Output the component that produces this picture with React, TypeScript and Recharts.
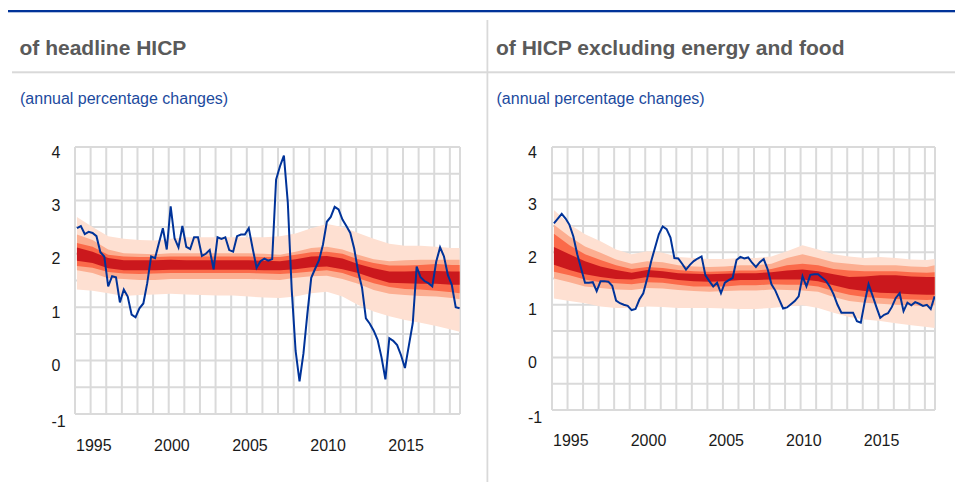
import React from 'react';
import { ComposedChart, Area, Line, XAxis, YAxis, CartesianGrid } from 'recharts';

const FONT = '"Liberation Sans", Arial, Helvetica, sans-serif';

// 1995Q1 .. 2019Q3, positioned mid-quarter
const FIRST_YEAR = 1995;
const QUARTER_COUNT = 99;
const QUARTER_X = Array.from({ length: QUARTER_COUNT }, (_, i) => FIRST_YEAR + Math.floor(i / 4) + ((i % 4) + 0.5) / 4);
// fan bands read once a year (Q1) plus the last quarter
const BAND_INDEX = [0, 4, 8, 12, 16, 20, 24, 28, 32, 36, 40, 44, 48, 52, 56, 60, 64, 68, 72, 76, 80, 84, 88, 92, 96, 98];

const X_END = 2019.65;
const YEAR_TICKS = [1995, 1996, 1997, 1998, 1999, 2000, 2001, 2002, 2003, 2004, 2005, 2006, 2007, 2008, 2009, 2010, 2011, 2012, 2013, 2014, 2015, 2016, 2017, 2018, 2019, X_END];
const LABELLED_YEARS = [1995, 2000, 2005, 2010, 2015];
const Y_TICKS = [-1, -0.5, 0, 0.5, 1, 1.5, 2, 2.5, 3, 3.5, 4];
const Y_LABELS = [-1, 0, 1, 2, 3, 4];

// headline HICP, annual % change (quarterly)
const HEADLINE = [
  2.48, 2.52, 2.37, 2.41, 2.39, 2.33, 2.03, 1.95, 1.39, 1.58,
  1.56, 1.09, 1.33, 1.20, 0.86, 0.81, 0.98, 1.07, 1.45, 1.95,
  1.92, 2.20, 2.48, 2.08, 2.89, 2.29, 2.12, 2.52, 2.13, 2.09,
  2.31, 2.31, 1.96, 2.00, 2.07, 1.71, 2.31, 2.28, 2.31, 2.07,
  2.04, 2.33, 2.36, 2.36, 2.48, 2.10, 1.74, 1.86, 1.91, 1.87,
  1.90, 3.39, 3.64, 3.84, 2.96, 1.33, 0.18, -0.39, 0.13, 0.87,
  1.55, 1.72, 1.88, 2.17, 2.60, 2.69, 2.88, 2.83, 2.64, 2.52,
  2.39, 2.10, 1.67, 1.37, 0.79, 0.69, 0.56, 0.39, 0.06, -0.35,
  0.42, 0.37, 0.29, 0.10, -0.14, 0.28, 0.70, 1.76, 1.56, 1.49,
  1.45, 1.39, 1.85, 2.12, 1.95, 1.60, 1.42, 1.00, 0.98,
];

// HICP excluding energy and food
const CORE = [
  2.55, 2.64, 2.73, 2.64, 2.52, 2.30, 1.96, 1.69, 1.42, 1.42,
  1.43, 1.26, 1.45, 1.45, 1.44, 1.36, 1.08, 1.03, 1.00, 0.98,
  0.90, 0.92, 1.10, 1.22, 1.50, 1.82, 2.08, 2.34, 2.49, 2.44,
  2.28, 1.89, 1.88, 1.78, 1.67, 1.76, 1.83, 1.88, 1.92, 1.56,
  1.45, 1.35, 1.42, 1.22, 1.42, 1.47, 1.51, 1.85, 1.91, 1.88,
  1.90, 1.80, 1.72, 1.81, 1.87, 1.68, 1.39, 1.27, 1.10, 0.93,
  0.95, 1.01, 1.07, 1.16, 1.54, 1.35, 1.57, 1.58, 1.58, 1.52,
  1.46, 1.35, 1.20, 1.00, 0.85, 0.85, 0.85, 0.85, 0.69, 0.66,
  1.05, 1.39, 1.18, 0.96, 0.75, 0.81, 0.84, 0.96, 1.13, 1.22,
  0.88, 1.04, 0.99, 1.05, 1.02, 0.98, 1.00, 0.92, 1.16,
];

// headline fan bands
const H_LIGHT_HI = [2.69, 2.50, 2.33, 2.28, 2.26, 2.25, 2.28, 2.31, 2.31, 2.31, 2.31, 2.31, 2.31, 2.33, 2.38, 2.48, 2.56, 2.50, 2.39, 2.28, 2.19, 2.15, 2.15, 2.13, 2.11, 2.11];
const H_SALMON_HI = [2.36, 2.26, 2.08, 2.01, 2.00, 1.99, 2.01, 2.01, 2.01, 2.01, 2.01, 2.01, 2.00, 1.98, 2.04, 2.11, 2.13, 2.08, 1.98, 1.90, 1.86, 1.88, 1.89, 1.89, 1.89, 1.89];
const H_ORANGE_HI = [2.20, 2.13, 1.98, 1.95, 1.94, 1.94, 1.95, 1.95, 1.95, 1.95, 1.95, 1.95, 1.94, 1.94, 1.98, 2.03, 2.04, 2.00, 1.90, 1.83, 1.78, 1.78, 1.79, 1.81, 1.79, 1.79];
const H_DARK_HI = [2.12, 2.04, 1.92, 1.88, 1.88, 1.88, 1.89, 1.88, 1.88, 1.88, 1.88, 1.88, 1.87, 1.86, 1.90, 1.95, 1.96, 1.91, 1.81, 1.73, 1.67, 1.67, 1.68, 1.68, 1.67, 1.67];
const H_DARK_LO = [1.87, 1.83, 1.73, 1.69, 1.69, 1.69, 1.70, 1.70, 1.70, 1.70, 1.70, 1.70, 1.69, 1.69, 1.71, 1.75, 1.76, 1.71, 1.64, 1.54, 1.46, 1.45, 1.44, 1.44, 1.42, 1.42];
const H_ORANGE_LO = [1.77, 1.74, 1.66, 1.63, 1.62, 1.63, 1.64, 1.64, 1.64, 1.64, 1.64, 1.64, 1.63, 1.62, 1.64, 1.67, 1.69, 1.64, 1.54, 1.45, 1.38, 1.34, 1.33, 1.31, 1.28, 1.26];
const H_SALMON_LO = [1.69, 1.64, 1.54, 1.53, 1.51, 1.51, 1.53, 1.53, 1.53, 1.53, 1.53, 1.53, 1.52, 1.51, 1.55, 1.58, 1.59, 1.53, 1.44, 1.32, 1.25, 1.23, 1.21, 1.20, 1.17, 1.15];
const H_LIGHT_LO = [1.33, 1.31, 1.26, 1.21, 1.23, 1.24, 1.25, 1.24, 1.23, 1.22, 1.22, 1.20, 1.18, 1.17, 1.20, 1.26, 1.29, 1.20, 1.04, 0.92, 0.83, 0.76, 0.71, 0.65, 0.58, 0.54];

// core fan bands
const C_LIGHT_HI = [2.80, 2.53, 2.34, 2.21, 2.05, 1.96, 2.02, 1.99, 1.91, 1.89, 1.87, 1.87, 1.89, 1.89, 1.92, 2.02, 2.13, 2.05, 1.96, 1.92, 1.89, 1.91, 1.89, 1.86, 1.85, 1.87];
const C_SALMON_HI = [2.52, 2.30, 2.11, 1.99, 1.86, 1.78, 1.83, 1.81, 1.75, 1.73, 1.72, 1.73, 1.75, 1.75, 1.78, 1.89, 1.96, 1.89, 1.81, 1.78, 1.75, 1.75, 1.75, 1.73, 1.72, 1.75];
const C_ORANGE_HI = [2.35, 2.13, 1.96, 1.85, 1.75, 1.68, 1.72, 1.70, 1.66, 1.64, 1.63, 1.64, 1.65, 1.65, 1.68, 1.75, 1.78, 1.75, 1.68, 1.65, 1.64, 1.64, 1.64, 1.62, 1.61, 1.62];
const C_DARK_HI = [2.10, 1.96, 1.83, 1.73, 1.66, 1.61, 1.66, 1.64, 1.60, 1.59, 1.58, 1.59, 1.60, 1.60, 1.62, 1.65, 1.67, 1.64, 1.58, 1.53, 1.54, 1.56, 1.56, 1.54, 1.53, 1.53];
const C_DARK_LO = [1.76, 1.66, 1.58, 1.53, 1.49, 1.48, 1.53, 1.51, 1.47, 1.45, 1.44, 1.45, 1.47, 1.47, 1.48, 1.48, 1.48, 1.45, 1.37, 1.30, 1.26, 1.23, 1.22, 1.20, 1.19, 1.19];
const C_ORANGE_LO = [1.63, 1.56, 1.48, 1.43, 1.41, 1.39, 1.43, 1.42, 1.38, 1.35, 1.35, 1.35, 1.37, 1.37, 1.39, 1.38, 1.38, 1.35, 1.26, 1.19, 1.15, 1.13, 1.11, 1.10, 1.09, 1.10];
const C_SALMON_LO = [1.50, 1.43, 1.35, 1.32, 1.29, 1.28, 1.32, 1.31, 1.28, 1.26, 1.25, 1.26, 1.27, 1.27, 1.29, 1.28, 1.27, 1.25, 1.15, 1.07, 1.04, 1.02, 1.00, 0.99, 0.97, 0.99];
const C_LIGHT_LO = [1.12, 1.07, 1.03, 0.97, 0.94, 0.94, 0.97, 0.96, 0.94, 0.94, 0.94, 0.93, 0.92, 0.92, 0.94, 0.97, 0.99, 0.94, 0.85, 0.77, 0.72, 0.69, 0.65, 0.61, 0.58, 0.56];

const COLORS = {
  light: '#fee0d2',
  salmon: '#fcae91',
  orange: '#fb6a4a',
  dark: '#cb181d',
  line: '#003399',
  grid: '#dadada',
};

type Bands = {
  lightHi: number[]; salmonHi: number[]; orangeHi: number[]; darkHi: number[];
  darkLo: number[]; orangeLo: number[]; salmonLo: number[]; lightLo: number[];
};

const HEADLINE_BANDS: Bands = {
  lightHi: H_LIGHT_HI, salmonHi: H_SALMON_HI, orangeHi: H_ORANGE_HI, darkHi: H_DARK_HI,
  darkLo: H_DARK_LO, orangeLo: H_ORANGE_LO, salmonLo: H_SALMON_LO, lightLo: H_LIGHT_LO,
};
const CORE_BANDS: Bands = {
  lightHi: C_LIGHT_HI, salmonHi: C_SALMON_HI, orangeHi: C_ORANGE_HI, darkHi: C_DARK_HI,
  darkLo: C_DARK_LO, orangeLo: C_ORANGE_LO, salmonLo: C_SALMON_LO, lightLo: C_LIGHT_LO,
};

function buildRows(line: number[], b: Bands) {
  return QUARTER_X.map((x, i) => {
    const row: any = { x, v: line[i] };
    const k = BAND_INDEX.indexOf(i);
    if (k >= 0) {
      row.light = [b.lightLo[k], b.lightHi[k]];
      row.salmon = [b.salmonLo[k], b.salmonHi[k]];
      row.orange = [b.orangeLo[k], b.orangeHi[k]];
      row.dark = [b.darkLo[k], b.darkHi[k]];
    }
    return row;
  });
}

function XTick(props: any) {
  const { x, payload, baseY } = props;
  const v = Number(payload && payload.value);
  if (!LABELLED_YEARS.includes(v)) return <g />;
  return (
    <text x={Number(x) + 1} y={baseY} fontSize={16} fill="#1a1a1a" textAnchor="start" fontFamily={FONT}>
      {String(v)}
    </text>
  );
}

function YTick(props: any) {
  const { y, payload, labelX } = props;
  const v = Number(payload && payload.value);
  if (!Y_LABELS.includes(v)) return <g />;
  return (
    <text x={labelX} y={Number(y) + (v === -1 ? 12.5 : 10.5)} fontSize={16} fill="#1a1a1a" textAnchor="start" fontFamily={FONT}>
      {String(v)}
    </text>
  );
}

function Panel(props: {
  line: number[]; bands: Bands; margin: { top: number; right: number; bottom: number; left: number };
  labelX: number; xLabelY: number;
}) {
  const data = buildRows(props.line, props.bands);
  return (
    <ComposedChart width={480} height={486} data={data} margin={props.margin} style={{ fontFamily: FONT }}>
      <CartesianGrid stroke={COLORS.grid} strokeWidth={2} />
      <XAxis
        type="number"
        dataKey="x"
        domain={[FIRST_YEAR, X_END]}
        ticks={YEAR_TICKS}
        interval={0}
        axisLine={false}
        tickLine={false}
        height={30}
        allowDataOverflow
        tick={<XTick baseY={props.xLabelY} />}
      />
      <YAxis
        type="number"
        domain={[-1, 4]}
        ticks={Y_TICKS}
        interval={0}
        axisLine={false}
        tickLine={false}
        width={24}
        allowDataOverflow
        tick={<YTick labelX={props.labelX} />}
      />
      <Area type="linear" dataKey="light" fill={COLORS.light} fillOpacity={1} stroke="none" connectNulls dot={false} activeDot={false} isAnimationActive={false} />
      <Area type="linear" dataKey="salmon" fill={COLORS.salmon} fillOpacity={1} stroke="none" connectNulls dot={false} activeDot={false} isAnimationActive={false} />
      <Area type="linear" dataKey="orange" fill={COLORS.orange} fillOpacity={1} stroke="none" connectNulls dot={false} activeDot={false} isAnimationActive={false} />
      <Area type="linear" dataKey="dark" fill={COLORS.dark} fillOpacity={1} stroke="none" connectNulls dot={false} activeDot={false} isAnimationActive={false} />
      <Line type="linear" dataKey="v" stroke={COLORS.line} strokeWidth={2} dot={false} activeDot={false} isAnimationActive={false} />
    </ComposedChart>
  );
}

export default function App() {
  return (
    <div style={{ position: 'absolute', left: 0, top: 0, width: 955, height: 486, background: '#fff', overflow: 'hidden', fontFamily: FONT }}>
      <svg width={955} height={486} style={{ position: 'absolute', left: 0, top: 0 }}>
        <rect x={8} y={10} width={947} height={2.3} fill="#003399" />
        <rect x={12} y={71.3} width={943} height={2} fill="#d9d9d9" />
        <rect x={486.5} y={20} width={1.8} height={462} fill="#d9d9d9" />
        <text x={19.5} y={55} fontSize={21} fontWeight="bold" fill="#5a5a5a" fontFamily={FONT}>of headline HICP</text>
        <text x={496} y={55} fontSize={21} fontWeight="bold" fill="#5a5a5a" fontFamily={FONT}>of HICP excluding energy and food</text>
        <text x={20} y={103.5} fontSize={16} fill="#1c4a9e" fontFamily={FONT}>(annual percentage changes)</text>
        <text x={496.5} y={103.5} fontSize={16} fill="#1c4a9e" fontFamily={FONT}>(annual percentage changes)</text>
      </svg>
      <div style={{ position: 'absolute', left: 0, top: 0 }}>
        <Panel line={HEADLINE} bands={HEADLINE_BANDS} margin={{ top: 147, right: 20, bottom: 42, left: 51 }} labelX={51.5} xLabelY={450.5} />
      </div>
      <div style={{ position: 'absolute', left: 476, top: 0 }}>
        <Panel line={CORE} bands={CORE_BANDS} margin={{ top: 147, right: 21, bottom: 46, left: 52 }} labelX={52} xLabelY={445.5} />
      </div>
    </div>
  );
}
